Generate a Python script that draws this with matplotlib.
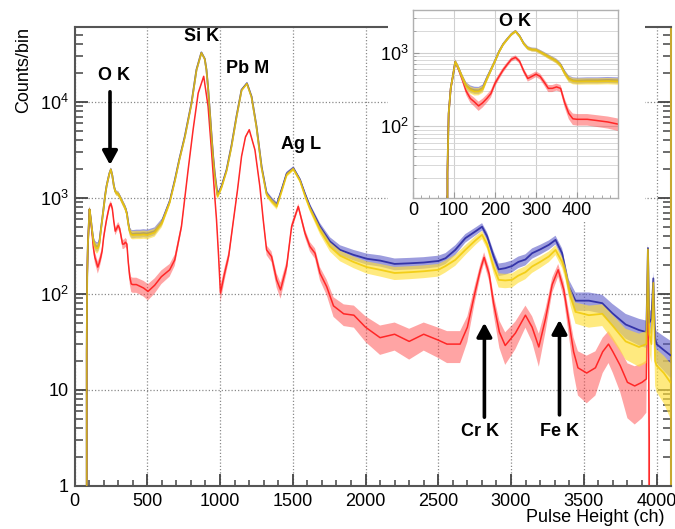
import numpy as np
import matplotlib
matplotlib.use("Agg")
import matplotlib.pyplot as plt
from matplotlib.ticker import FixedLocator, LogLocator, NullFormatter

plt.rcParams['font.family'] = ['Liberation Sans', 'DejaVu Sans']
plt.rcParams['mathtext.fontset'] = 'custom'
plt.rcParams['mathtext.rm'] = 'Liberation Sans'
plt.rcParams['mathtext.it'] = 'Liberation Sans:italic'
plt.rcParams['mathtext.bf'] = 'Liberation Sans:bold'

# ---------------- data ----------------
ch_blue = [0, 82, 84, 87, 92, 97, 103, 110, 120, 130, 140, 150, 160, 170, 180, 190, 200, 210, 220,
           230, 240, 250, 260, 270, 280, 290, 300, 310, 320, 330, 340, 350, 360, 370, 380, 390, 400,
           425, 450, 475, 500, 550, 600, 654, 690, 720, 758, 804, 838, 872, 895, 907, 918, 930, 941,
           952, 964, 983, 1010, 1045, 1079, 1113, 1148, 1185, 1217, 1251, 1286, 1320, 1355, 1390,
           1423, 1458, 1504, 1550, 1584, 1618, 1687, 1756, 1825, 1917, 2009, 2101, 2200, 2300, 2400,
           2500, 2550, 2617, 2686, 2755, 2801, 2835, 2881, 2915, 2960, 3007, 3050, 3099, 3145, 3200,
           3260, 3306, 3351, 3397, 3443, 3535, 3627, 3696, 3788, 3880, 3930, 3941, 3950, 3965, 3978,
           3990, 4000, 4050, 4095]
cnt_blue = [0, 0, 24, 150, 330, 474, 760, 640, 470, 360, 325, 312, 310, 335, 450, 590, 780, 1050, 1320,
            1550, 1800, 1980, 1700, 1350, 1170, 1120, 1110, 1040, 970, 900, 840, 780, 690, 540, 450, 425, 420,
            425, 425, 430, 425, 450, 560, 915, 1540, 2500, 4350, 9690, 21500, 32600, 28000, 21500, 14000, 8000, 4650,
            2800, 1790, 1070, 1310, 1950, 3500, 7000, 13300, 15600, 11300, 5500, 2100, 1120, 955, 846,
            1210, 1790, 2040, 1540, 1100, 812, 502, 351, 287, 255, 232, 222, 205, 208, 212,
            220, 235, 287, 380, 447, 500, 400, 245, 180, 185, 195, 215, 228, 265, 290,
            324, 365, 265, 119, 85, 85, 80, 63, 48, 42, 40, 300, 50, 55, 145,
            35, 30, 26, 23]

ch_yellow = [0, 82, 84, 87, 92, 97, 103, 110, 120, 130, 140, 150, 160, 170, 180, 190, 200, 210, 220,
             230, 240, 250, 260, 270, 280, 290, 300, 310, 320, 330, 340, 350, 360, 370, 380, 390, 400,
             425, 450, 475, 500, 550, 600, 654, 690, 720, 758, 804, 838, 872, 895, 907, 918, 930, 941,
             952, 964, 983, 1010, 1045, 1079, 1113, 1148, 1185, 1217, 1251, 1286, 1320, 1355, 1390,
             1423, 1458, 1504, 1550, 1584, 1618, 1687, 1756, 1825, 1917, 2009, 2101, 2200, 2300, 2400,
             2500, 2550, 2617, 2686, 2755, 2801, 2835, 2881, 2915, 2960, 3007, 3050, 3099, 3145, 3200,
             3260, 3306, 3351, 3375, 3409, 3443, 3535, 3627, 3696, 3788, 3880, 3930, 3941, 3950, 3965,
             3978, 3990, 4000, 4050, 4095]
cnt_yellow = [0, 0, 24, 150, 330, 474, 760, 640, 470, 355, 315, 298, 300, 322, 440, 585, 775, 1040, 1310,
              1540, 1790, 1970, 1690, 1340, 1160, 1110, 1100, 1030, 960, 890, 830, 770, 680, 530, 440, 415, 410,
              412, 412, 415, 410, 435, 540, 890, 1500, 2450, 4250, 9500, 21200, 32300, 27800, 21300, 13800, 7800, 4500,
              2700, 1720, 1030, 1270, 1900, 3400, 6850, 13100, 15400, 11100, 5400, 2040, 1080, 920, 810,
              1160, 1730, 1990, 1500, 1050, 770, 460, 310, 250, 215, 190, 178, 165, 168, 172,
              178, 195, 226, 287, 360, 412, 330, 190, 140, 138, 140, 155, 168, 193, 215,
              245, 287, 215, 164, 94, 65, 60, 62, 47, 32, 28, 30, 290, 38, 30,
              130, 20, 18, 15, 12]

ch_red = [0, 82, 84, 87, 92, 97, 103, 110, 120, 130, 140, 150, 160, 170, 180, 190, 200, 210, 220,
          230, 240, 250, 260, 270, 280, 290, 300, 310, 320, 330, 340, 350, 360, 370, 380, 390, 400,
          425, 450, 475, 505, 551, 597, 654, 689, 735, 781, 815, 850, 888, 918, 941, 964, 976, 990,
          1003, 1030, 1060, 1090, 1120, 1148, 1175, 1201, 1240, 1274, 1297, 1320, 1354, 1389, 1416,
          1458, 1492, 1538, 1584, 1618, 1653, 1687, 1733, 1780, 1850, 1920, 2000, 2100, 2200, 2300,
          2400, 2500, 2560, 2650, 2700, 2750, 2790, 2815, 2850, 2880, 2920, 2960, 3030, 3099, 3145,
          3191, 3237, 3283, 3324, 3363, 3409, 3430, 3460, 3520, 3580, 3630, 3670, 3700, 3750, 3800,
          3850, 3900, 3930, 3941, 3950, 3958, 4096]
cnt_red = [0, 0, 24, 150, 330, 474, 760, 620, 440, 300, 240, 215, 190, 210, 240, 280, 385, 480, 590,
           700, 820, 870, 770, 570, 450, 480, 515, 480, 400, 330, 330, 345, 330, 210, 150, 127, 125,
           125, 120, 115, 106, 123, 151, 178, 226, 502, 1960, 5110, 12300, 18400, 8950, 3160, 1030, 590, 250,
           102, 160, 250, 550, 1200, 2700, 4300, 5110, 3160, 1310, 590, 287, 245, 140, 110,
           193, 502, 812, 429, 311, 265, 164, 119, 75, 62, 60, 45, 35, 38, 32,
           38, 33, 30, 30, 45, 100, 180, 240, 160, 80, 40, 29, 39, 60, 45,
           28, 55, 125, 178, 110, 40, 25, 17, 15, 17, 25, 30, 25, 18, 12,
           11, 12, 13, 250, 3, 0, 0]

x_ticks = [0, 500, 1000, 1500, 2000, 2500, 3000, 3500, 4000]
y_ticks = [1, 10, 100, 1000, 10000]
y_ticklabels = ['1', '10', '$10^{2}$', '$10^{3}$', '$10^{4}$']
inset_x_ticks = [0, 100, 200, 300, 400]
inset_y_ticks = [100, 1000]
inset_y_ticklabels = ['$10^{2}$', '$10^{3}$']

peak_labels = ['O K', 'Si K', 'Pb M', 'Ag L', 'Cr K', 'Fe K']

# ---------------- layout ----------------
W, H = 675, 529
fig = plt.figure(figsize=(W / 100, H / 100), dpi=100)


def box(l, t, r, b):
    return [l / W, 1 - b / H, (r - l) / W, (b - t) / H]


ax = fig.add_axes(box(74.5, 27, 670.5, 486))
pad = fig.add_axes(box(388, 0, 645, 222))
ins = fig.add_axes(box(413, 10, 618, 198))
pad.set_xticks([]); pad.set_yticks([])
for s in pad.spines.values():
    s.set_visible(False)
pad.set_facecolor('white')

BLUE_L, BLUE_B = '#3434a8', '#5c5cc8'
YEL_L, YEL_B = '#f0c800', '#ffdf3a'
RED_L, RED_B = '#ff2020', '#ff4a4a'


def draw(a, ch, v, lc, bc, lw, ab, al, z):
    ch = np.asarray(ch, float)
    v = np.asarray(v, float)
    e = np.sqrt(v)
    lo = np.clip(v - 2.0 * e, 0, None)
    hi = v + 2.0 * e
    a.fill_between(ch, lo, hi, color=bc, alpha=ab, lw=0, zorder=z)
    a.plot(ch, v, color=lc, lw=lw, alpha=al, zorder=z + 0.5)


for a in (ax, ins):
    a.set_yscale('log')
    draw(a, ch_red, cnt_red, RED_L, RED_B, 1.1, 0.5, 0.95, 2)
    draw(a, ch_blue, cnt_blue, BLUE_L, BLUE_B, 1.3, 0.6, 1.0, 3)
    draw(a, ch_yellow, cnt_yellow, YEL_L, YEL_B, 1.3, 0.65, 0.8, 4)

# main axes styling
ax.set_xlim(0, 4096)
ax.set_ylim(1, 6.0e4)
ax.xaxis.set_major_locator(FixedLocator(x_ticks))
ax.set_xticklabels([str(t) for t in x_ticks])
ax.xaxis.set_minor_locator(FixedLocator(np.arange(0, 4097, 100)))
ax.yaxis.set_major_locator(FixedLocator(y_ticks))
ax.set_yticklabels(y_ticklabels)
ax.yaxis.set_minor_locator(LogLocator(base=10, subs=np.arange(2, 10), numticks=20))
ax.yaxis.set_minor_formatter(NullFormatter())
ax.tick_params(axis='x', which='major', direction='in', length=8.5, width=1.3, color='#444444',
               labelsize=13, pad=5, top=False)
ax.tick_params(axis='x', which='minor', direction='in', length=4.3, width=1.1, color='#444444', top=False)
ax.tick_params(axis='y', which='major', direction='in', length=9.5, width=1.3, color='#444444',
               labelsize=13, pad=4, right=True)
ax.tick_params(axis='y', which='minor', direction='in', length=5.8, width=1.1, color='#444444', right=True)
ax.grid(True, which='major', color='#8a8a8a', linestyle=(0, (1, 1.6)), lw=0.9)
for k in ('left', 'bottom', 'top'):
    ax.spines[k].set_color('#555555')
    ax.spines[k].set_linewidth(1.5)
ax.spines['right'].set_color('#c8a830')
ax.spines['right'].set_linewidth(1.5)

# inset styling
ins.set_xlim(0, 500)
ins.set_ylim(10.6, 3850)
ins.xaxis.set_major_locator(FixedLocator(inset_x_ticks))
ins.set_xticklabels([str(t) for t in inset_x_ticks])
ins.xaxis.set_minor_locator(FixedLocator(np.arange(0, 501, 20)))
ins.yaxis.set_major_locator(FixedLocator(inset_y_ticks))
ins.set_yticklabels(inset_y_ticklabels)
ins.yaxis.set_minor_locator(LogLocator(base=10, subs=np.arange(2, 10), numticks=20))
ins.yaxis.set_minor_formatter(NullFormatter())
ins.tick_params(which='major', direction='in', length=4, width=0.8, color='#999999', labelsize=13, pad=3)
ins.tick_params(which='minor', direction='in', length=2, width=0.6, color='#999999')
ins.grid(True, which='major', color='#cfcfcf', lw=0.8, ls='-')
ins.grid(True, which='minor', axis='y', color='#d8d8d8', lw=0.7, ls='-')
for s in ins.spines.values():
    s.set_color('#b0b0b0')
    s.set_linewidth(1.0)
ins.set_facecolor('white')

# peak labels and arrows
tkw = dict(fontsize=13, fontweight='bold', ha='center', va='center', zorder=10)
akw = dict(arrowstyle='-|>,head_length=0.55,head_width=0.3', color='black', lw=2.6,
           mutation_scale=15, shrinkA=0, shrinkB=0)
ax.text(272, 18900, peak_labels[0], **tkw)
ax.annotate('', xy=(244, 2200), xytext=(244, 12700), arrowprops=akw, zorder=10)
ax.text(870, 47500, peak_labels[1], **tkw)
ax.text(1190, 22300, peak_labels[2], **tkw)
ax.text(1555, 3565, peak_labels[3], **tkw)
ax.text(2789, 3.65, peak_labels[4], **tkw)
ax.annotate('', xy=(2817, 50), xytext=(2817, 5.2), arrowprops=akw, zorder=10)
ax.text(3333, 3.65, peak_labels[5], **tkw)
ax.annotate('', xy=(3333, 53.6), xytext=(3333, 5.5), arrowprops=akw, zorder=10)
ins.text(248, 2720, peak_labels[0], **tkw)

fig.text(665 / W, 1 - 517 / H, 'Pulse Height (ch)', fontsize=13, ha='right', va='center')
fig.text(24 / W, 1 - 27 / H, 'Counts/bin', fontsize=13, ha='center', va='top', rotation=90)

fig.savefig('out.png', dpi=100)
